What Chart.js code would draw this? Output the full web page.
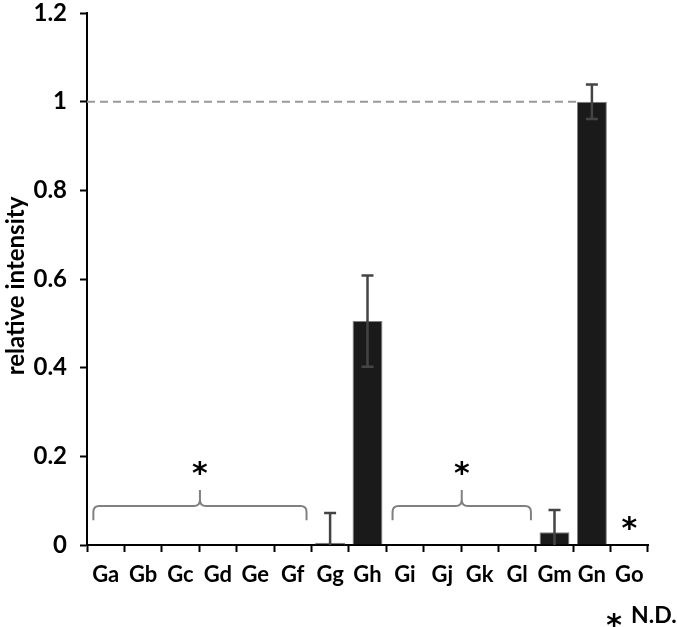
<!DOCTYPE html>
<html>
<head>
<meta charset="utf-8">
<script src="https://cdn.jsdelivr.net/npm/chart.js@4/dist/chart.umd.min.js"></script>
<style>
  html, body { margin: 0; padding: 0; background: #fff; }
  #wrap { width: 677px; height: 627px; }
</style>
</head>
<body>
<div id="wrap"><canvas id="chart" width="677" height="627"></canvas></div>
<script>
// data
const labels = ['Ga','Gb','Gc','Gd','Ge','Gf','Gg','Gh','Gi','Gj','Gk','Gl','Gm','Gn','Go'];
const values = [null, null, null, null, null, null, 0.005, 0.505, null, null, null, null, 0.029, 1.0, null];
const errors = [0, 0, 0, 0, 0, 0, 0.067, 0.103, 0, 0, 0, 0, 0.05, 0.039, 0];
// groups not detected (first/last category index) and single N.D. category
const ndGroups = [[0, 5], [8, 11]];
const ndSingle = [14];
const refLine = 1;

const FONT = 'Lato, "Open Sans", sans-serif';
const STAR = 'bold 30px "DejaVu Sans", sans-serif';

// error bars, braces, asterisks, legend
const extras = {
  id: 'extras',
  beforeDatasetsDraw(chart) {
    const ctx = chart.ctx, y = chart.scales.y;
    const meta = chart.getDatasetMeta(0);
    // dashed reference line, stops at the bar that reaches it
    let idx = values.indexOf(refLine);
    let xEnd = meta.data[idx].x - meta.data[idx].width / 2;
    ctx.save();
    ctx.strokeStyle = '#999999';
    ctx.lineWidth = 2;
    ctx.setLineDash([8, 5]);
    ctx.beginPath();
    ctx.moveTo(chart.chartArea.left, y.getPixelForValue(refLine));
    ctx.lineTo(xEnd, y.getPixelForValue(refLine));
    ctx.stroke();
    ctx.restore();
  },
  afterDatasetsDraw(chart) {
    const ctx = chart.ctx, x = chart.scales.x, y = chart.scales.y;
    const bottom = chart.chartArea.bottom;
    ctx.save();
    // error bars
    ctx.strokeStyle = '#444444';
    ctx.lineWidth = 2.5;
    values.forEach((v, i) => {
      if (v === null || !errors[i]) return;
      const cx = x.getPixelForValue(i);
      const top = y.getPixelForValue(v + errors[i]);
      const lowV = v - errors[i];
      const low = lowV < 0 ? bottom : y.getPixelForValue(lowV);
      ctx.beginPath();
      ctx.moveTo(cx, top);
      ctx.lineTo(cx, low);
      ctx.moveTo(cx - 6, top);
      ctx.lineTo(cx + 6, top);
      if (lowV >= 0) {
        ctx.moveTo(cx - 6, low);
        ctx.lineTo(cx + 6, low);
      }
      ctx.stroke();
    });

    // braces over N.D. groups
    ctx.strokeStyle = '#808080';
    ctx.lineWidth = 2;
    ctx.fillStyle = '#000';
    ctx.textAlign = 'center';
    ctx.textBaseline = 'middle';
    ndGroups.forEach(g => {
      const x0 = x.getPixelForValue(g[0] - 0.33);
      const x1 = x.getPixelForValue(g[1] + 0.37);
      const xm = (x0 + x1) / 2;
      const yEnd = y.getPixelForValue(0.056);
      const yLine = y.getPixelForValue(0.088);
      const yPeak = y.getPixelForValue(0.124);
      const r = 6;
      ctx.beginPath();
      ctx.moveTo(x0, yEnd);
      ctx.lineTo(x0, yLine + r);
      ctx.quadraticCurveTo(x0, yLine, x0 + r, yLine);
      ctx.lineTo(xm - r, yLine);
      ctx.quadraticCurveTo(xm, yLine, xm, yLine - r);
      ctx.lineTo(xm, yPeak);
      ctx.moveTo(xm, yLine - r);
      ctx.quadraticCurveTo(xm, yLine, xm + r, yLine);
      ctx.lineTo(x1 - r, yLine);
      ctx.quadraticCurveTo(x1, yLine, x1, yLine + r);
      ctx.lineTo(x1, yEnd);
      ctx.stroke();
      ctx.font = STAR;
      ctx.fillText('*', xm, y.getPixelForValue(0.168) + 5);
    });
    ndSingle.forEach(i => {
      ctx.font = STAR;
      ctx.fillText('*', x.getPixelForValue(i), y.getPixelForValue(0.045) + 5);
    });

    // N.D. legend
    ctx.font = STAR;
    ctx.fillText('*', 614, 627);
    ctx.font = 'bold 23px ' + FONT;
    ctx.textAlign = 'left';
    ctx.fillText('N.D.', 631, 616);

    // y axis title
    ctx.translate(16, 286);
    ctx.rotate(-Math.PI / 2);
    ctx.textAlign = 'center';
    ctx.font = 'bold 24px ' + FONT;
    ctx.fillText('relative intensity', 0, 0);
    ctx.restore();
  }
};

new Chart(document.getElementById('chart'), {
  type: 'bar',
  data: {
    labels: labels,
    datasets: [{
      data: values,
      backgroundColor: '#1a1a1a',
      borderColor: '#808080',
      borderWidth: 1,
      barPercentage: 0.8,
      categoryPercentage: 1.0
    }]
  },
  options: {
    responsive: false,
    animation: false,
    layout: { padding: { top: 13, right: 29, left: 0, bottom: 0 } },
    plugins: {
      legend: { display: false },
      tooltip: { enabled: false }
    },
    scales: {
      x: {
        offset: true,
        grid: {
          offset: true,
          drawOnChartArea: false,
          drawTicks: true,
          tickLength: 7,
          tickWidth: 2,
          tickColor: '#000'
        },
        border: { display: true, color: '#000', width: 2 },
        ticks: {
          color: '#000',
          padding: 10,
          font: { family: FONT, size: 22, weight: 'bold' },
          maxRotation: 0,
          autoSkip: false
        },
        afterFit(scale) { scale.height = 82; }
      },
      y: {
        min: 0,
        max: 1.2,
        grid: {
          drawOnChartArea: false,
          drawTicks: true,
          tickLength: 7,
          tickWidth: 2,
          tickColor: '#000'
        },
        border: { display: true, color: '#000', width: 2 },
        ticks: {
          stepSize: 0.2,
          color: '#000',
          padding: 13,
          font: { family: FONT, size: 24, weight: 'bold' },
          callback: v => String(+v.toFixed(1))
        },
        afterFit(scale) {
          scale.width = 87;
          scale.paddingTop = 0;
          scale.paddingBottom = 0;
        }
      }
    }
  },
  plugins: [extras]
});
</script>
</body>
</html>
